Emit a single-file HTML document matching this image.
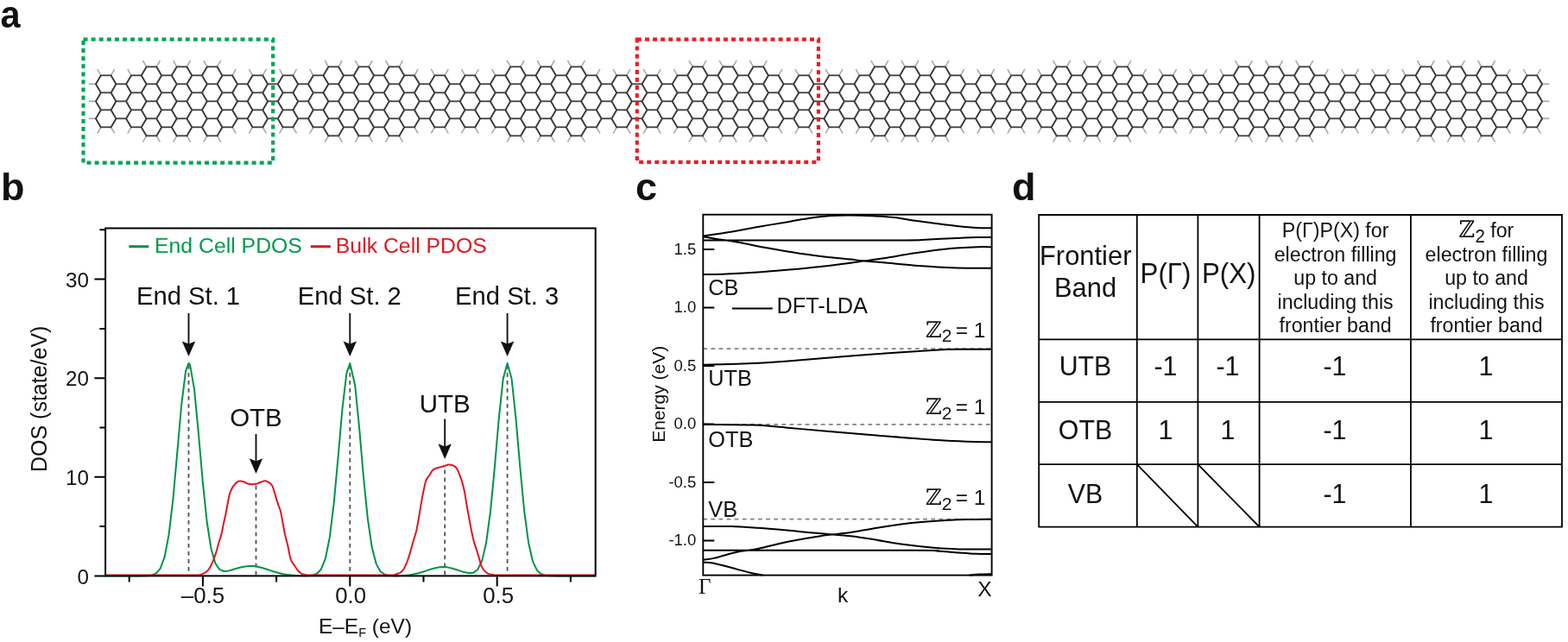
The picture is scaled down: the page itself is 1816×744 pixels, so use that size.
<!DOCTYPE html>
<html><head><meta charset="utf-8"><title>Figure</title><style>
html,body{margin:0;padding:0;background:#fff;overflow:hidden;}
svg{display:block;font-family:"Liberation Sans", Arial, Helvetica, sans-serif;fill:#111;}
</style></head><body>
<svg width="1816" height="744" viewBox="0 0 1816 744" fill="#111">
<rect width="1816" height="744" fill="#fff"/>
<path d="M1235.5 77.4L1239.6 70.2M292.5 147.4L288.4 154.6M304.3 147.4L308.4 154.6M216.4 157.4L220.5 164.6M450.7 77.4L446.5 70.2M1048.0 157.4L1043.9 164.6M1059.8 157.4L1063.9 164.6M591.2 77.4L587.1 70.2M603.0 77.4L607.1 70.2M1745.0 147.4L1749.1 154.6M169.6 77.4L165.4 70.2M181.3 77.4L185.4 70.2M1417.0 87.4L1412.9 80.2M380.4 77.4L376.3 70.2M1094.9 157.4L1099.0 164.6M292.5 87.4L288.4 80.2M1305.8 157.4L1309.9 164.6M1768.4 87.4L1764.3 80.2M1780.1 87.4L1784.3 80.2M239.8 77.4L235.7 70.2M872.4 157.4L868.2 164.6M884.1 157.4L888.2 164.6M1206.2 87.4L1202.1 80.2M239.8 157.4L235.7 164.6M251.6 157.4L255.7 164.6M1768.4 147.4L1764.3 154.6M1780.1 147.4L1784.3 154.6M626.4 77.4L622.2 70.2M152.0 147.4L147.9 154.6M480.0 147.4L484.1 154.6M661.5 157.4L657.4 164.6M673.2 157.4L677.4 164.6M1516.6 77.4L1520.7 70.2M1223.8 157.4L1219.6 164.6M1235.5 157.4L1239.6 164.6M269.1 87.4L273.2 80.2M462.4 157.4L466.5 164.6M603.0 157.4L607.1 164.6M111.0 97.4L102.7 97.4M690.8 87.4L694.9 80.2M1048.0 77.4L1043.9 70.2M1381.9 147.4L1377.8 154.6M1346.7 87.4L1342.6 80.2M1469.7 77.4L1465.6 70.2M1504.9 77.4L1500.7 70.2M515.1 87.4L519.2 80.2M1417.0 147.4L1412.9 154.6M1024.6 157.4L1028.8 164.6M269.1 147.4L273.2 154.6M1112.5 147.4L1116.6 154.6M1083.2 77.4L1079.1 70.2M327.7 87.4L323.6 80.2M1393.6 147.4L1397.7 154.6M304.3 87.4L308.4 80.2M761.1 87.4L765.2 80.2M690.8 147.4L694.9 154.6M960.2 147.4L956.1 154.6M925.1 147.4L920.9 154.6M1715.7 77.4L1711.6 70.2M1727.4 77.4L1731.6 70.2M673.2 77.4L677.4 70.2M1358.5 147.4L1362.6 154.6M327.7 147.4L323.6 154.6M339.4 147.4L343.5 154.6M749.4 87.4L745.2 80.2M111.0 117.4L102.7 117.4M661.5 77.4L657.4 70.2M1083.2 157.4L1079.1 164.6M1147.6 87.4L1151.7 80.2M362.8 147.4L358.7 154.6M784.5 147.4L780.4 154.6M1627.9 147.4L1623.7 154.6M1434.6 157.4L1430.5 164.6M216.4 77.4L220.5 70.2M111.0 137.4L102.7 137.4M116.8 147.4L112.7 154.6M550.2 87.4L554.4 80.2M591.2 157.4L587.1 164.6M936.8 87.4L940.9 80.2M1786.0 137.4L1794.3 137.4M1323.3 87.4L1327.4 80.2M462.4 77.4L466.5 70.2M802.1 77.4L797.9 70.2M813.8 77.4L817.9 70.2M971.9 147.4L976.0 154.6M1745.0 87.4L1749.1 80.2M1147.6 147.4L1151.7 154.6M1223.8 77.4L1219.6 70.2M901.6 87.4L905.8 80.2M1059.8 77.4L1063.9 70.2M1569.3 87.4L1573.4 80.2M1557.6 147.4L1553.5 154.6M1094.9 77.4L1099.0 70.2M1182.8 87.4L1186.9 80.2M1305.8 77.4L1309.9 70.2M204.7 157.4L200.6 164.6M1645.4 77.4L1641.3 70.2M1657.2 77.4L1661.3 70.2M901.6 147.4L905.8 154.6M415.5 157.4L411.4 164.6M427.2 157.4L431.4 164.6M837.2 157.4L833.1 164.6M1206.2 147.4L1202.1 154.6M1627.9 87.4L1623.7 80.2M169.6 157.4L165.4 164.6M181.3 157.4L185.4 164.6M749.4 147.4L745.2 154.6M761.1 147.4L765.2 154.6M1680.6 157.4L1676.4 164.6M960.2 87.4L956.1 80.2M971.9 87.4L976.0 80.2M813.8 157.4L817.9 164.6M515.1 147.4L519.2 154.6M1786.0 97.4L1794.3 97.4M415.5 77.4L411.4 70.2M638.1 77.4L642.2 70.2M1171.0 147.4L1166.9 154.6M1294.0 157.4L1289.9 164.6M392.1 77.4L396.2 70.2M1258.9 157.4L1254.8 164.6M1270.6 157.4L1274.7 164.6M1680.6 77.4L1676.4 70.2M1692.3 77.4L1696.4 70.2M1012.9 77.4L1008.8 70.2M1024.6 77.4L1028.8 70.2M503.4 87.4L499.3 80.2M784.5 87.4L780.4 80.2M1434.6 77.4L1430.5 70.2M1645.4 157.4L1641.3 164.6M626.4 157.4L622.2 164.6M1346.7 147.4L1342.6 154.6M884.1 77.4L888.2 70.2M450.7 157.4L446.5 164.6M1715.7 157.4L1711.6 164.6M1727.4 157.4L1731.6 164.6M837.2 77.4L833.1 70.2M1469.7 157.4L1465.6 164.6M1481.5 157.4L1485.6 164.6M1171.0 87.4L1166.9 80.2M128.6 147.4L132.7 154.6M480.0 87.4L484.1 80.2M1323.3 147.4L1327.4 154.6M714.2 147.4L710.1 154.6M573.7 87.4L569.5 80.2M848.9 77.4L853.1 70.2M362.8 87.4L358.7 80.2M1446.3 157.4L1450.4 164.6M925.1 87.4L920.9 80.2M936.8 147.4L940.9 154.6M725.9 147.4L730.1 154.6M116.8 87.4L112.7 80.2M128.6 87.4L132.7 80.2M1112.5 87.4L1116.6 80.2M1182.8 147.4L1186.9 154.6M1358.5 87.4L1362.6 80.2M1592.7 87.4L1588.6 80.2M1258.9 77.4L1254.8 70.2M1534.2 87.4L1538.3 80.2M1135.9 87.4L1131.8 80.2M995.3 87.4L991.2 80.2M872.4 77.4L868.2 70.2M251.6 77.4L255.7 70.2M1786.0 117.4L1794.3 117.4M1569.3 147.4L1573.4 154.6M152.0 87.4L147.9 80.2M1504.9 157.4L1500.7 164.6M1516.6 157.4L1520.7 164.6M1481.5 77.4L1485.6 70.2M550.2 147.4L554.4 154.6M1692.3 157.4L1696.4 164.6M1381.9 87.4L1377.8 80.2M1657.2 157.4L1661.3 164.6M1446.3 77.4L1450.4 70.2M538.5 87.4L534.4 80.2M1592.7 147.4L1588.6 154.6M1604.4 147.4L1608.6 154.6M848.9 157.4L853.1 164.6M1393.6 87.4L1397.7 80.2M1557.6 87.4L1553.5 80.2M1604.4 87.4L1608.6 80.2M1012.9 157.4L1008.8 164.6M503.4 147.4L499.3 154.6M573.7 147.4L569.5 154.6M339.4 87.4L343.5 80.2M538.5 147.4L534.4 154.6M638.1 157.4L642.2 164.6M204.7 77.4L200.6 70.2M1135.9 147.4L1131.8 154.6M714.2 87.4L710.1 80.2M725.9 87.4L730.1 80.2M1270.6 77.4L1274.7 70.2M380.4 157.4L376.3 164.6M392.1 157.4L396.2 164.6M1294.0 77.4L1289.9 70.2M1534.2 147.4L1538.3 154.6M995.3 147.4L991.2 154.6M802.1 157.4L797.9 164.6M427.2 77.4L431.4 70.2" stroke="#a9a9a9" stroke-width="1.6" fill="none"/>
<path d="M111.0 97.4L116.8 87.4M111.0 97.4L116.8 107.4M111.0 117.4L116.8 107.4M111.0 117.4L116.8 127.4M111.0 137.4L116.8 127.4M111.0 137.4L116.8 147.4M116.8 87.4L128.6 87.4M116.8 107.4L128.6 107.4M116.8 127.4L128.6 127.4M116.8 147.4L128.6 147.4M128.6 87.4L134.4 97.4M128.6 107.4L134.4 97.4M128.6 107.4L134.4 117.4M128.6 127.4L134.4 117.4M128.6 127.4L134.4 137.4M128.6 147.4L134.4 137.4M134.4 97.4L146.1 97.4M134.4 117.4L146.1 117.4M134.4 137.4L146.1 137.4M146.1 97.4L152.0 87.4M146.1 97.4L152.0 107.4M146.1 117.4L152.0 107.4M146.1 117.4L152.0 127.4M146.1 137.4L152.0 127.4M146.1 137.4L152.0 147.4M152.0 87.4L163.7 87.4M152.0 107.4L163.7 107.4M152.0 127.4L163.7 127.4M152.0 147.4L163.7 147.4M163.7 87.4L169.6 77.4M163.7 87.4L169.6 97.4M163.7 107.4L169.6 97.4M163.7 107.4L169.6 117.4M163.7 127.4L169.6 117.4M163.7 127.4L169.6 137.4M163.7 147.4L169.6 137.4M163.7 147.4L169.6 157.4M169.6 77.4L181.3 77.4M169.6 97.4L181.3 97.4M169.6 117.4L181.3 117.4M169.6 137.4L181.3 137.4M169.6 157.4L181.3 157.4M181.3 77.4L187.1 87.4M181.3 97.4L187.1 87.4M181.3 97.4L187.1 107.4M181.3 117.4L187.1 107.4M181.3 117.4L187.1 127.4M181.3 137.4L187.1 127.4M181.3 137.4L187.1 147.4M181.3 157.4L187.1 147.4M187.1 87.4L198.8 87.4M187.1 107.4L198.8 107.4M187.1 127.4L198.8 127.4M187.1 147.4L198.8 147.4M198.8 87.4L204.7 77.4M198.8 87.4L204.7 97.4M198.8 107.4L204.7 97.4M198.8 107.4L204.7 117.4M198.8 127.4L204.7 117.4M198.8 127.4L204.7 137.4M198.8 147.4L204.7 137.4M198.8 147.4L204.7 157.4M204.7 77.4L216.4 77.4M204.7 97.4L216.4 97.4M204.7 117.4L216.4 117.4M204.7 137.4L216.4 137.4M204.7 157.4L216.4 157.4M216.4 77.4L222.3 87.4M216.4 97.4L222.3 87.4M216.4 97.4L222.3 107.4M216.4 117.4L222.3 107.4M216.4 117.4L222.3 127.4M216.4 137.4L222.3 127.4M216.4 137.4L222.3 147.4M216.4 157.4L222.3 147.4M222.3 87.4L234.0 87.4M222.3 107.4L234.0 107.4M222.3 127.4L234.0 127.4M222.3 147.4L234.0 147.4M234.0 87.4L239.8 77.4M234.0 87.4L239.8 97.4M234.0 107.4L239.8 97.4M234.0 107.4L239.8 117.4M234.0 127.4L239.8 117.4M234.0 127.4L239.8 137.4M234.0 147.4L239.8 137.4M234.0 147.4L239.8 157.4M239.8 77.4L251.6 77.4M239.8 97.4L251.6 97.4M239.8 117.4L251.6 117.4M239.8 137.4L251.6 137.4M239.8 157.4L251.6 157.4M251.6 77.4L257.4 87.4M251.6 97.4L257.4 87.4M251.6 97.4L257.4 107.4M251.6 117.4L257.4 107.4M251.6 117.4L257.4 127.4M251.6 137.4L257.4 127.4M251.6 137.4L257.4 147.4M251.6 157.4L257.4 147.4M257.4 87.4L269.1 87.4M257.4 107.4L269.1 107.4M257.4 127.4L269.1 127.4M257.4 147.4L269.1 147.4M269.1 87.4L275.0 97.4M269.1 107.4L275.0 97.4M269.1 107.4L275.0 117.4M269.1 127.4L275.0 117.4M269.1 127.4L275.0 137.4M269.1 147.4L275.0 137.4M275.0 97.4L286.7 97.4M275.0 117.4L286.7 117.4M275.0 137.4L286.7 137.4M286.7 97.4L292.5 87.4M286.7 97.4L292.5 107.4M286.7 117.4L292.5 107.4M286.7 117.4L292.5 127.4M286.7 137.4L292.5 127.4M286.7 137.4L292.5 147.4M292.5 87.4L304.3 87.4M292.5 107.4L304.3 107.4M292.5 127.4L304.3 127.4M292.5 147.4L304.3 147.4M304.3 87.4L310.1 97.4M304.3 107.4L310.1 97.4M304.3 107.4L310.1 117.4M304.3 127.4L310.1 117.4M304.3 127.4L310.1 137.4M304.3 147.4L310.1 137.4M310.1 97.4L321.8 97.4M310.1 117.4L321.8 117.4M310.1 137.4L321.8 137.4M321.8 97.4L327.7 87.4M321.8 97.4L327.7 107.4M321.8 117.4L327.7 107.4M321.8 117.4L327.7 127.4M321.8 137.4L327.7 127.4M321.8 137.4L327.7 147.4M327.7 87.4L339.4 87.4M327.7 107.4L339.4 107.4M327.7 127.4L339.4 127.4M327.7 147.4L339.4 147.4M339.4 87.4L345.2 97.4M339.4 107.4L345.2 97.4M339.4 107.4L345.2 117.4M339.4 127.4L345.2 117.4M339.4 127.4L345.2 137.4M339.4 147.4L345.2 137.4M345.2 97.4L357.0 97.4M345.2 117.4L357.0 117.4M345.2 137.4L357.0 137.4M357.0 97.4L362.8 87.4M357.0 97.4L362.8 107.4M357.0 117.4L362.8 107.4M357.0 117.4L362.8 127.4M357.0 137.4L362.8 127.4M357.0 137.4L362.8 147.4M362.8 87.4L374.5 87.4M362.8 107.4L374.5 107.4M362.8 127.4L374.5 127.4M362.8 147.4L374.5 147.4M374.5 87.4L380.4 77.4M374.5 87.4L380.4 97.4M374.5 107.4L380.4 97.4M374.5 107.4L380.4 117.4M374.5 127.4L380.4 117.4M374.5 127.4L380.4 137.4M374.5 147.4L380.4 137.4M374.5 147.4L380.4 157.4M380.4 77.4L392.1 77.4M380.4 97.4L392.1 97.4M380.4 117.4L392.1 117.4M380.4 137.4L392.1 137.4M380.4 157.4L392.1 157.4M392.1 77.4L398.0 87.4M392.1 97.4L398.0 87.4M392.1 97.4L398.0 107.4M392.1 117.4L398.0 107.4M392.1 117.4L398.0 127.4M392.1 137.4L398.0 127.4M392.1 137.4L398.0 147.4M392.1 157.4L398.0 147.4M398.0 87.4L409.7 87.4M398.0 107.4L409.7 107.4M398.0 127.4L409.7 127.4M398.0 147.4L409.7 147.4M409.7 87.4L415.5 77.4M409.7 87.4L415.5 97.4M409.7 107.4L415.5 97.4M409.7 107.4L415.5 117.4M409.7 127.4L415.5 117.4M409.7 127.4L415.5 137.4M409.7 147.4L415.5 137.4M409.7 147.4L415.5 157.4M415.5 77.4L427.2 77.4M415.5 97.4L427.2 97.4M415.5 117.4L427.2 117.4M415.5 137.4L427.2 137.4M415.5 157.4L427.2 157.4M427.2 77.4L433.1 87.4M427.2 97.4L433.1 87.4M427.2 97.4L433.1 107.4M427.2 117.4L433.1 107.4M427.2 117.4L433.1 127.4M427.2 137.4L433.1 127.4M427.2 137.4L433.1 147.4M427.2 157.4L433.1 147.4M433.1 87.4L444.8 87.4M433.1 107.4L444.8 107.4M433.1 127.4L444.8 127.4M433.1 147.4L444.8 147.4M444.8 87.4L450.7 77.4M444.8 87.4L450.7 97.4M444.8 107.4L450.7 97.4M444.8 107.4L450.7 117.4M444.8 127.4L450.7 117.4M444.8 127.4L450.7 137.4M444.8 147.4L450.7 137.4M444.8 147.4L450.7 157.4M450.7 77.4L462.4 77.4M450.7 97.4L462.4 97.4M450.7 117.4L462.4 117.4M450.7 137.4L462.4 137.4M450.7 157.4L462.4 157.4M462.4 77.4L468.2 87.4M462.4 97.4L468.2 87.4M462.4 97.4L468.2 107.4M462.4 117.4L468.2 107.4M462.4 117.4L468.2 127.4M462.4 137.4L468.2 127.4M462.4 137.4L468.2 147.4M462.4 157.4L468.2 147.4M468.2 87.4L480.0 87.4M468.2 107.4L480.0 107.4M468.2 127.4L480.0 127.4M468.2 147.4L480.0 147.4M480.0 87.4L485.8 97.4M480.0 107.4L485.8 97.4M480.0 107.4L485.8 117.4M480.0 127.4L485.8 117.4M480.0 127.4L485.8 137.4M480.0 147.4L485.8 137.4M485.8 97.4L497.5 97.4M485.8 117.4L497.5 117.4M485.8 137.4L497.5 137.4M497.5 97.4L503.4 87.4M497.5 97.4L503.4 107.4M497.5 117.4L503.4 107.4M497.5 117.4L503.4 127.4M497.5 137.4L503.4 127.4M497.5 137.4L503.4 147.4M503.4 87.4L515.1 87.4M503.4 107.4L515.1 107.4M503.4 127.4L515.1 127.4M503.4 147.4L515.1 147.4M515.1 87.4L521.0 97.4M515.1 107.4L521.0 97.4M515.1 107.4L521.0 117.4M515.1 127.4L521.0 117.4M515.1 127.4L521.0 137.4M515.1 147.4L521.0 137.4M521.0 97.4L532.7 97.4M521.0 117.4L532.7 117.4M521.0 137.4L532.7 137.4M532.7 97.4L538.5 87.4M532.7 97.4L538.5 107.4M532.7 117.4L538.5 107.4M532.7 117.4L538.5 127.4M532.7 137.4L538.5 127.4M532.7 137.4L538.5 147.4M538.5 87.4L550.2 87.4M538.5 107.4L550.2 107.4M538.5 127.4L550.2 127.4M538.5 147.4L550.2 147.4M550.2 87.4L556.1 97.4M550.2 107.4L556.1 97.4M550.2 107.4L556.1 117.4M550.2 127.4L556.1 117.4M550.2 127.4L556.1 137.4M550.2 147.4L556.1 137.4M556.1 97.4L567.8 97.4M556.1 117.4L567.8 117.4M556.1 137.4L567.8 137.4M567.8 97.4L573.7 87.4M567.8 97.4L573.7 107.4M567.8 117.4L573.7 107.4M567.8 117.4L573.7 127.4M567.8 137.4L573.7 127.4M567.8 137.4L573.7 147.4M573.7 87.4L585.4 87.4M573.7 107.4L585.4 107.4M573.7 127.4L585.4 127.4M573.7 147.4L585.4 147.4M585.4 87.4L591.2 77.4M585.4 87.4L591.2 97.4M585.4 107.4L591.2 97.4M585.4 107.4L591.2 117.4M585.4 127.4L591.2 117.4M585.4 127.4L591.2 137.4M585.4 147.4L591.2 137.4M585.4 147.4L591.2 157.4M591.2 77.4L603.0 77.4M591.2 97.4L603.0 97.4M591.2 117.4L603.0 117.4M591.2 137.4L603.0 137.4M591.2 157.4L603.0 157.4M603.0 77.4L608.8 87.4M603.0 97.4L608.8 87.4M603.0 97.4L608.8 107.4M603.0 117.4L608.8 107.4M603.0 117.4L608.8 127.4M603.0 137.4L608.8 127.4M603.0 137.4L608.8 147.4M603.0 157.4L608.8 147.4M608.8 87.4L620.5 87.4M608.8 107.4L620.5 107.4M608.8 127.4L620.5 127.4M608.8 147.4L620.5 147.4M620.5 87.4L626.4 77.4M620.5 87.4L626.4 97.4M620.5 107.4L626.4 97.4M620.5 107.4L626.4 117.4M620.5 127.4L626.4 117.4M620.5 127.4L626.4 137.4M620.5 147.4L626.4 137.4M620.5 147.4L626.4 157.4M626.4 77.4L638.1 77.4M626.4 97.4L638.1 97.4M626.4 117.4L638.1 117.4M626.4 137.4L638.1 137.4M626.4 157.4L638.1 157.4M638.1 77.4L643.9 87.4M638.1 97.4L643.9 87.4M638.1 97.4L643.9 107.4M638.1 117.4L643.9 107.4M638.1 117.4L643.9 127.4M638.1 137.4L643.9 127.4M638.1 137.4L643.9 147.4M638.1 157.4L643.9 147.4M643.9 87.4L655.7 87.4M643.9 107.4L655.7 107.4M643.9 127.4L655.7 127.4M643.9 147.4L655.7 147.4M655.7 87.4L661.5 77.4M655.7 87.4L661.5 97.4M655.7 107.4L661.5 97.4M655.7 107.4L661.5 117.4M655.7 127.4L661.5 117.4M655.7 127.4L661.5 137.4M655.7 147.4L661.5 137.4M655.7 147.4L661.5 157.4M661.5 77.4L673.2 77.4M661.5 97.4L673.2 97.4M661.5 117.4L673.2 117.4M661.5 137.4L673.2 137.4M661.5 157.4L673.2 157.4M673.2 77.4L679.1 87.4M673.2 97.4L679.1 87.4M673.2 97.4L679.1 107.4M673.2 117.4L679.1 107.4M673.2 117.4L679.1 127.4M673.2 137.4L679.1 127.4M673.2 137.4L679.1 147.4M673.2 157.4L679.1 147.4M679.1 87.4L690.8 87.4M679.1 107.4L690.8 107.4M679.1 127.4L690.8 127.4M679.1 147.4L690.8 147.4M690.8 87.4L696.6 97.4M690.8 107.4L696.6 97.4M690.8 107.4L696.6 117.4M690.8 127.4L696.6 117.4M690.8 127.4L696.6 137.4M690.8 147.4L696.6 137.4M696.6 97.4L708.4 97.4M696.6 117.4L708.4 117.4M696.6 137.4L708.4 137.4M708.4 97.4L714.2 87.4M708.4 97.4L714.2 107.4M708.4 117.4L714.2 107.4M708.4 117.4L714.2 127.4M708.4 137.4L714.2 127.4M708.4 137.4L714.2 147.4M714.2 87.4L725.9 87.4M714.2 107.4L725.9 107.4M714.2 127.4L725.9 127.4M714.2 147.4L725.9 147.4M725.9 87.4L731.8 97.4M725.9 107.4L731.8 97.4M725.9 107.4L731.8 117.4M725.9 127.4L731.8 117.4M725.9 127.4L731.8 137.4M725.9 147.4L731.8 137.4M731.8 97.4L743.5 97.4M731.8 117.4L743.5 117.4M731.8 137.4L743.5 137.4M743.5 97.4L749.4 87.4M743.5 97.4L749.4 107.4M743.5 117.4L749.4 107.4M743.5 117.4L749.4 127.4M743.5 137.4L749.4 127.4M743.5 137.4L749.4 147.4M749.4 87.4L761.1 87.4M749.4 107.4L761.1 107.4M749.4 127.4L761.1 127.4M749.4 147.4L761.1 147.4M761.1 87.4L766.9 97.4M761.1 107.4L766.9 97.4M761.1 107.4L766.9 117.4M761.1 127.4L766.9 117.4M761.1 127.4L766.9 137.4M761.1 147.4L766.9 137.4M766.9 97.4L778.6 97.4M766.9 117.4L778.6 117.4M766.9 137.4L778.6 137.4M778.6 97.4L784.5 87.4M778.6 97.4L784.5 107.4M778.6 117.4L784.5 107.4M778.6 117.4L784.5 127.4M778.6 137.4L784.5 127.4M778.6 137.4L784.5 147.4M784.5 87.4L796.2 87.4M784.5 107.4L796.2 107.4M784.5 127.4L796.2 127.4M784.5 147.4L796.2 147.4M796.2 87.4L802.1 77.4M796.2 87.4L802.1 97.4M796.2 107.4L802.1 97.4M796.2 107.4L802.1 117.4M796.2 127.4L802.1 117.4M796.2 127.4L802.1 137.4M796.2 147.4L802.1 137.4M796.2 147.4L802.1 157.4M802.1 77.4L813.8 77.4M802.1 97.4L813.8 97.4M802.1 117.4L813.8 117.4M802.1 137.4L813.8 137.4M802.1 157.4L813.8 157.4M813.8 77.4L819.6 87.4M813.8 97.4L819.6 87.4M813.8 97.4L819.6 107.4M813.8 117.4L819.6 107.4M813.8 117.4L819.6 127.4M813.8 137.4L819.6 127.4M813.8 137.4L819.6 147.4M813.8 157.4L819.6 147.4M819.6 87.4L831.4 87.4M819.6 107.4L831.4 107.4M819.6 127.4L831.4 127.4M819.6 147.4L831.4 147.4M831.4 87.4L837.2 77.4M831.4 87.4L837.2 97.4M831.4 107.4L837.2 97.4M831.4 107.4L837.2 117.4M831.4 127.4L837.2 117.4M831.4 127.4L837.2 137.4M831.4 147.4L837.2 137.4M831.4 147.4L837.2 157.4M837.2 77.4L848.9 77.4M837.2 97.4L848.9 97.4M837.2 117.4L848.9 117.4M837.2 137.4L848.9 137.4M837.2 157.4L848.9 157.4M848.9 77.4L854.8 87.4M848.9 97.4L854.8 87.4M848.9 97.4L854.8 107.4M848.9 117.4L854.8 107.4M848.9 117.4L854.8 127.4M848.9 137.4L854.8 127.4M848.9 137.4L854.8 147.4M848.9 157.4L854.8 147.4M854.8 87.4L866.5 87.4M854.8 107.4L866.5 107.4M854.8 127.4L866.5 127.4M854.8 147.4L866.5 147.4M866.5 87.4L872.4 77.4M866.5 87.4L872.4 97.4M866.5 107.4L872.4 97.4M866.5 107.4L872.4 117.4M866.5 127.4L872.4 117.4M866.5 127.4L872.4 137.4M866.5 147.4L872.4 137.4M866.5 147.4L872.4 157.4M872.4 77.4L884.1 77.4M872.4 97.4L884.1 97.4M872.4 117.4L884.1 117.4M872.4 137.4L884.1 137.4M872.4 157.4L884.1 157.4M884.1 77.4L889.9 87.4M884.1 97.4L889.9 87.4M884.1 97.4L889.9 107.4M884.1 117.4L889.9 107.4M884.1 117.4L889.9 127.4M884.1 137.4L889.9 127.4M884.1 137.4L889.9 147.4M884.1 157.4L889.9 147.4M889.9 87.4L901.6 87.4M889.9 107.4L901.6 107.4M889.9 127.4L901.6 127.4M889.9 147.4L901.6 147.4M901.6 87.4L907.5 97.4M901.6 107.4L907.5 97.4M901.6 107.4L907.5 117.4M901.6 127.4L907.5 117.4M901.6 127.4L907.5 137.4M901.6 147.4L907.5 137.4M907.5 97.4L919.2 97.4M907.5 117.4L919.2 117.4M907.5 137.4L919.2 137.4M919.2 97.4L925.1 87.4M919.2 97.4L925.1 107.4M919.2 117.4L925.1 107.4M919.2 117.4L925.1 127.4M919.2 137.4L925.1 127.4M919.2 137.4L925.1 147.4M925.1 87.4L936.8 87.4M925.1 107.4L936.8 107.4M925.1 127.4L936.8 127.4M925.1 147.4L936.8 147.4M936.8 87.4L942.6 97.4M936.8 107.4L942.6 97.4M936.8 107.4L942.6 117.4M936.8 127.4L942.6 117.4M936.8 127.4L942.6 137.4M936.8 147.4L942.6 137.4M942.6 97.4L954.4 97.4M942.6 117.4L954.4 117.4M942.6 137.4L954.4 137.4M954.4 97.4L960.2 87.4M954.4 97.4L960.2 107.4M954.4 117.4L960.2 107.4M954.4 117.4L960.2 127.4M954.4 137.4L960.2 127.4M954.4 137.4L960.2 147.4M960.2 87.4L971.9 87.4M960.2 107.4L971.9 107.4M960.2 127.4L971.9 127.4M960.2 147.4L971.9 147.4M971.9 87.4L977.8 97.4M971.9 107.4L977.8 97.4M971.9 107.4L977.8 117.4M971.9 127.4L977.8 117.4M971.9 127.4L977.8 137.4M971.9 147.4L977.8 137.4M977.8 97.4L989.5 97.4M977.8 117.4L989.5 117.4M977.8 137.4L989.5 137.4M989.5 97.4L995.3 87.4M989.5 97.4L995.3 107.4M989.5 117.4L995.3 107.4M989.5 117.4L995.3 127.4M989.5 137.4L995.3 127.4M989.5 137.4L995.3 147.4M995.3 87.4L1007.1 87.4M995.3 107.4L1007.1 107.4M995.3 127.4L1007.1 127.4M995.3 147.4L1007.1 147.4M1007.1 87.4L1012.9 77.4M1007.1 87.4L1012.9 97.4M1007.1 107.4L1012.9 97.4M1007.1 107.4L1012.9 117.4M1007.1 127.4L1012.9 117.4M1007.1 127.4L1012.9 137.4M1007.1 147.4L1012.9 137.4M1007.1 147.4L1012.9 157.4M1012.9 77.4L1024.6 77.4M1012.9 97.4L1024.6 97.4M1012.9 117.4L1024.6 117.4M1012.9 137.4L1024.6 137.4M1012.9 157.4L1024.6 157.4M1024.6 77.4L1030.5 87.4M1024.6 97.4L1030.5 87.4M1024.6 97.4L1030.5 107.4M1024.6 117.4L1030.5 107.4M1024.6 117.4L1030.5 127.4M1024.6 137.4L1030.5 127.4M1024.6 137.4L1030.5 147.4M1024.6 157.4L1030.5 147.4M1030.5 87.4L1042.2 87.4M1030.5 107.4L1042.2 107.4M1030.5 127.4L1042.2 127.4M1030.5 147.4L1042.2 147.4M1042.2 87.4L1048.0 77.4M1042.2 87.4L1048.0 97.4M1042.2 107.4L1048.0 97.4M1042.2 107.4L1048.0 117.4M1042.2 127.4L1048.0 117.4M1042.2 127.4L1048.0 137.4M1042.2 147.4L1048.0 137.4M1042.2 147.4L1048.0 157.4M1048.0 77.4L1059.8 77.4M1048.0 97.4L1059.8 97.4M1048.0 117.4L1059.8 117.4M1048.0 137.4L1059.8 137.4M1048.0 157.4L1059.8 157.4M1059.8 77.4L1065.6 87.4M1059.8 97.4L1065.6 87.4M1059.8 97.4L1065.6 107.4M1059.8 117.4L1065.6 107.4M1059.8 117.4L1065.6 127.4M1059.8 137.4L1065.6 127.4M1059.8 137.4L1065.6 147.4M1059.8 157.4L1065.6 147.4M1065.6 87.4L1077.3 87.4M1065.6 107.4L1077.3 107.4M1065.6 127.4L1077.3 127.4M1065.6 147.4L1077.3 147.4M1077.3 87.4L1083.2 77.4M1077.3 87.4L1083.2 97.4M1077.3 107.4L1083.2 97.4M1077.3 107.4L1083.2 117.4M1077.3 127.4L1083.2 117.4M1077.3 127.4L1083.2 137.4M1077.3 147.4L1083.2 137.4M1077.3 147.4L1083.2 157.4M1083.2 77.4L1094.9 77.4M1083.2 97.4L1094.9 97.4M1083.2 117.4L1094.9 117.4M1083.2 137.4L1094.9 137.4M1083.2 157.4L1094.9 157.4M1094.9 77.4L1100.8 87.4M1094.9 97.4L1100.8 87.4M1094.9 97.4L1100.8 107.4M1094.9 117.4L1100.8 107.4M1094.9 117.4L1100.8 127.4M1094.9 137.4L1100.8 127.4M1094.9 137.4L1100.8 147.4M1094.9 157.4L1100.8 147.4M1100.8 87.4L1112.5 87.4M1100.8 107.4L1112.5 107.4M1100.8 127.4L1112.5 127.4M1100.8 147.4L1112.5 147.4M1112.5 87.4L1118.3 97.4M1112.5 107.4L1118.3 97.4M1112.5 107.4L1118.3 117.4M1112.5 127.4L1118.3 117.4M1112.5 127.4L1118.3 137.4M1112.5 147.4L1118.3 137.4M1118.3 97.4L1130.0 97.4M1118.3 117.4L1130.0 117.4M1118.3 137.4L1130.0 137.4M1130.0 97.4L1135.9 87.4M1130.0 97.4L1135.9 107.4M1130.0 117.4L1135.9 107.4M1130.0 117.4L1135.9 127.4M1130.0 137.4L1135.9 127.4M1130.0 137.4L1135.9 147.4M1135.9 87.4L1147.6 87.4M1135.9 107.4L1147.6 107.4M1135.9 127.4L1147.6 127.4M1135.9 147.4L1147.6 147.4M1147.6 87.4L1153.5 97.4M1147.6 107.4L1153.5 97.4M1147.6 107.4L1153.5 117.4M1147.6 127.4L1153.5 117.4M1147.6 127.4L1153.5 137.4M1147.6 147.4L1153.5 137.4M1153.5 97.4L1165.2 97.4M1153.5 117.4L1165.2 117.4M1153.5 137.4L1165.2 137.4M1165.2 97.4L1171.0 87.4M1165.2 97.4L1171.0 107.4M1165.2 117.4L1171.0 107.4M1165.2 117.4L1171.0 127.4M1165.2 137.4L1171.0 127.4M1165.2 137.4L1171.0 147.4M1171.0 87.4L1182.8 87.4M1171.0 107.4L1182.8 107.4M1171.0 127.4L1182.8 127.4M1171.0 147.4L1182.8 147.4M1182.8 87.4L1188.6 97.4M1182.8 107.4L1188.6 97.4M1182.8 107.4L1188.6 117.4M1182.8 127.4L1188.6 117.4M1182.8 127.4L1188.6 137.4M1182.8 147.4L1188.6 137.4M1188.6 97.4L1200.3 97.4M1188.6 117.4L1200.3 117.4M1188.6 137.4L1200.3 137.4M1200.3 97.4L1206.2 87.4M1200.3 97.4L1206.2 107.4M1200.3 117.4L1206.2 107.4M1200.3 117.4L1206.2 127.4M1200.3 137.4L1206.2 127.4M1200.3 137.4L1206.2 147.4M1206.2 87.4L1217.9 87.4M1206.2 107.4L1217.9 107.4M1206.2 127.4L1217.9 127.4M1206.2 147.4L1217.9 147.4M1217.9 87.4L1223.8 77.4M1217.9 87.4L1223.8 97.4M1217.9 107.4L1223.8 97.4M1217.9 107.4L1223.8 117.4M1217.9 127.4L1223.8 117.4M1217.9 127.4L1223.8 137.4M1217.9 147.4L1223.8 137.4M1217.9 147.4L1223.8 157.4M1223.8 77.4L1235.5 77.4M1223.8 97.4L1235.5 97.4M1223.8 117.4L1235.5 117.4M1223.8 137.4L1235.5 137.4M1223.8 157.4L1235.5 157.4M1235.5 77.4L1241.3 87.4M1235.5 97.4L1241.3 87.4M1235.5 97.4L1241.3 107.4M1235.5 117.4L1241.3 107.4M1235.5 117.4L1241.3 127.4M1235.5 137.4L1241.3 127.4M1235.5 137.4L1241.3 147.4M1235.5 157.4L1241.3 147.4M1241.3 87.4L1253.0 87.4M1241.3 107.4L1253.0 107.4M1241.3 127.4L1253.0 127.4M1241.3 147.4L1253.0 147.4M1253.0 87.4L1258.9 77.4M1253.0 87.4L1258.9 97.4M1253.0 107.4L1258.9 97.4M1253.0 107.4L1258.9 117.4M1253.0 127.4L1258.9 117.4M1253.0 127.4L1258.9 137.4M1253.0 147.4L1258.9 137.4M1253.0 147.4L1258.9 157.4M1258.9 77.4L1270.6 77.4M1258.9 97.4L1270.6 97.4M1258.9 117.4L1270.6 117.4M1258.9 137.4L1270.6 137.4M1258.9 157.4L1270.6 157.4M1270.6 77.4L1276.5 87.4M1270.6 97.4L1276.5 87.4M1270.6 97.4L1276.5 107.4M1270.6 117.4L1276.5 107.4M1270.6 117.4L1276.5 127.4M1270.6 137.4L1276.5 127.4M1270.6 137.4L1276.5 147.4M1270.6 157.4L1276.5 147.4M1276.5 87.4L1288.2 87.4M1276.5 107.4L1288.2 107.4M1276.5 127.4L1288.2 127.4M1276.5 147.4L1288.2 147.4M1288.2 87.4L1294.0 77.4M1288.2 87.4L1294.0 97.4M1288.2 107.4L1294.0 97.4M1288.2 107.4L1294.0 117.4M1288.2 127.4L1294.0 117.4M1288.2 127.4L1294.0 137.4M1288.2 147.4L1294.0 137.4M1288.2 147.4L1294.0 157.4M1294.0 77.4L1305.8 77.4M1294.0 97.4L1305.8 97.4M1294.0 117.4L1305.8 117.4M1294.0 137.4L1305.8 137.4M1294.0 157.4L1305.8 157.4M1305.8 77.4L1311.6 87.4M1305.8 97.4L1311.6 87.4M1305.8 97.4L1311.6 107.4M1305.8 117.4L1311.6 107.4M1305.8 117.4L1311.6 127.4M1305.8 137.4L1311.6 127.4M1305.8 137.4L1311.6 147.4M1305.8 157.4L1311.6 147.4M1311.6 87.4L1323.3 87.4M1311.6 107.4L1323.3 107.4M1311.6 127.4L1323.3 127.4M1311.6 147.4L1323.3 147.4M1323.3 87.4L1329.2 97.4M1323.3 107.4L1329.2 97.4M1323.3 107.4L1329.2 117.4M1323.3 127.4L1329.2 117.4M1323.3 127.4L1329.2 137.4M1323.3 147.4L1329.2 137.4M1329.2 97.4L1340.9 97.4M1329.2 117.4L1340.9 117.4M1329.2 137.4L1340.9 137.4M1340.9 97.4L1346.7 87.4M1340.9 97.4L1346.7 107.4M1340.9 117.4L1346.7 107.4M1340.9 117.4L1346.7 127.4M1340.9 137.4L1346.7 127.4M1340.9 137.4L1346.7 147.4M1346.7 87.4L1358.5 87.4M1346.7 107.4L1358.5 107.4M1346.7 127.4L1358.5 127.4M1346.7 147.4L1358.5 147.4M1358.5 87.4L1364.3 97.4M1358.5 107.4L1364.3 97.4M1358.5 107.4L1364.3 117.4M1358.5 127.4L1364.3 117.4M1358.5 127.4L1364.3 137.4M1358.5 147.4L1364.3 137.4M1364.3 97.4L1376.0 97.4M1364.3 117.4L1376.0 117.4M1364.3 137.4L1376.0 137.4M1376.0 97.4L1381.9 87.4M1376.0 97.4L1381.9 107.4M1376.0 117.4L1381.9 107.4M1376.0 117.4L1381.9 127.4M1376.0 137.4L1381.9 127.4M1376.0 137.4L1381.9 147.4M1381.9 87.4L1393.6 87.4M1381.9 107.4L1393.6 107.4M1381.9 127.4L1393.6 127.4M1381.9 147.4L1393.6 147.4M1393.6 87.4L1399.5 97.4M1393.6 107.4L1399.5 97.4M1393.6 107.4L1399.5 117.4M1393.6 127.4L1399.5 117.4M1393.6 127.4L1399.5 137.4M1393.6 147.4L1399.5 137.4M1399.5 97.4L1411.2 97.4M1399.5 117.4L1411.2 117.4M1399.5 137.4L1411.2 137.4M1411.2 97.4L1417.0 87.4M1411.2 97.4L1417.0 107.4M1411.2 117.4L1417.0 107.4M1411.2 117.4L1417.0 127.4M1411.2 137.4L1417.0 127.4M1411.2 137.4L1417.0 147.4M1417.0 87.4L1428.7 87.4M1417.0 107.4L1428.7 107.4M1417.0 127.4L1428.7 127.4M1417.0 147.4L1428.7 147.4M1428.7 87.4L1434.6 77.4M1428.7 87.4L1434.6 97.4M1428.7 107.4L1434.6 97.4M1428.7 107.4L1434.6 117.4M1428.7 127.4L1434.6 117.4M1428.7 127.4L1434.6 137.4M1428.7 147.4L1434.6 137.4M1428.7 147.4L1434.6 157.4M1434.6 77.4L1446.3 77.4M1434.6 97.4L1446.3 97.4M1434.6 117.4L1446.3 117.4M1434.6 137.4L1446.3 137.4M1434.6 157.4L1446.3 157.4M1446.3 77.4L1452.2 87.4M1446.3 97.4L1452.2 87.4M1446.3 97.4L1452.2 107.4M1446.3 117.4L1452.2 107.4M1446.3 117.4L1452.2 127.4M1446.3 137.4L1452.2 127.4M1446.3 137.4L1452.2 147.4M1446.3 157.4L1452.2 147.4M1452.2 87.4L1463.9 87.4M1452.2 107.4L1463.9 107.4M1452.2 127.4L1463.9 127.4M1452.2 147.4L1463.9 147.4M1463.9 87.4L1469.7 77.4M1463.9 87.4L1469.7 97.4M1463.9 107.4L1469.7 97.4M1463.9 107.4L1469.7 117.4M1463.9 127.4L1469.7 117.4M1463.9 127.4L1469.7 137.4M1463.9 147.4L1469.7 137.4M1463.9 147.4L1469.7 157.4M1469.7 77.4L1481.5 77.4M1469.7 97.4L1481.5 97.4M1469.7 117.4L1481.5 117.4M1469.7 137.4L1481.5 137.4M1469.7 157.4L1481.5 157.4M1481.5 77.4L1487.3 87.4M1481.5 97.4L1487.3 87.4M1481.5 97.4L1487.3 107.4M1481.5 117.4L1487.3 107.4M1481.5 117.4L1487.3 127.4M1481.5 137.4L1487.3 127.4M1481.5 137.4L1487.3 147.4M1481.5 157.4L1487.3 147.4M1487.3 87.4L1499.0 87.4M1487.3 107.4L1499.0 107.4M1487.3 127.4L1499.0 127.4M1487.3 147.4L1499.0 147.4M1499.0 87.4L1504.9 77.4M1499.0 87.4L1504.9 97.4M1499.0 107.4L1504.9 97.4M1499.0 107.4L1504.9 117.4M1499.0 127.4L1504.9 117.4M1499.0 127.4L1504.9 137.4M1499.0 147.4L1504.9 137.4M1499.0 147.4L1504.9 157.4M1504.9 77.4L1516.6 77.4M1504.9 97.4L1516.6 97.4M1504.9 117.4L1516.6 117.4M1504.9 137.4L1516.6 137.4M1504.9 157.4L1516.6 157.4M1516.6 77.4L1522.4 87.4M1516.6 97.4L1522.4 87.4M1516.6 97.4L1522.4 107.4M1516.6 117.4L1522.4 107.4M1516.6 117.4L1522.4 127.4M1516.6 137.4L1522.4 127.4M1516.6 137.4L1522.4 147.4M1516.6 157.4L1522.4 147.4M1522.4 87.4L1534.2 87.4M1522.4 107.4L1534.2 107.4M1522.4 127.4L1534.2 127.4M1522.4 147.4L1534.2 147.4M1534.2 87.4L1540.0 97.4M1534.2 107.4L1540.0 97.4M1534.2 107.4L1540.0 117.4M1534.2 127.4L1540.0 117.4M1534.2 127.4L1540.0 137.4M1534.2 147.4L1540.0 137.4M1540.0 97.4L1551.7 97.4M1540.0 117.4L1551.7 117.4M1540.0 137.4L1551.7 137.4M1551.7 97.4L1557.6 87.4M1551.7 97.4L1557.6 107.4M1551.7 117.4L1557.6 107.4M1551.7 117.4L1557.6 127.4M1551.7 137.4L1557.6 127.4M1551.7 137.4L1557.6 147.4M1557.6 87.4L1569.3 87.4M1557.6 107.4L1569.3 107.4M1557.6 127.4L1569.3 127.4M1557.6 147.4L1569.3 147.4M1569.3 87.4L1575.2 97.4M1569.3 107.4L1575.2 97.4M1569.3 107.4L1575.2 117.4M1569.3 127.4L1575.2 117.4M1569.3 127.4L1575.2 137.4M1569.3 147.4L1575.2 137.4M1575.2 97.4L1586.9 97.4M1575.2 117.4L1586.9 117.4M1575.2 137.4L1586.9 137.4M1586.9 97.4L1592.7 87.4M1586.9 97.4L1592.7 107.4M1586.9 117.4L1592.7 107.4M1586.9 117.4L1592.7 127.4M1586.9 137.4L1592.7 127.4M1586.9 137.4L1592.7 147.4M1592.7 87.4L1604.4 87.4M1592.7 107.4L1604.4 107.4M1592.7 127.4L1604.4 127.4M1592.7 147.4L1604.4 147.4M1604.4 87.4L1610.3 97.4M1604.4 107.4L1610.3 97.4M1604.4 107.4L1610.3 117.4M1604.4 127.4L1610.3 117.4M1604.4 127.4L1610.3 137.4M1604.4 147.4L1610.3 137.4M1610.3 97.4L1622.0 97.4M1610.3 117.4L1622.0 117.4M1610.3 137.4L1622.0 137.4M1622.0 97.4L1627.9 87.4M1622.0 97.4L1627.9 107.4M1622.0 117.4L1627.9 107.4M1622.0 117.4L1627.9 127.4M1622.0 137.4L1627.9 127.4M1622.0 137.4L1627.9 147.4M1627.9 87.4L1639.6 87.4M1627.9 107.4L1639.6 107.4M1627.9 127.4L1639.6 127.4M1627.9 147.4L1639.6 147.4M1639.6 87.4L1645.4 77.4M1639.6 87.4L1645.4 97.4M1639.6 107.4L1645.4 97.4M1639.6 107.4L1645.4 117.4M1639.6 127.4L1645.4 117.4M1639.6 127.4L1645.4 137.4M1639.6 147.4L1645.4 137.4M1639.6 147.4L1645.4 157.4M1645.4 77.4L1657.2 77.4M1645.4 97.4L1657.2 97.4M1645.4 117.4L1657.2 117.4M1645.4 137.4L1657.2 137.4M1645.4 157.4L1657.2 157.4M1657.2 77.4L1663.0 87.4M1657.2 97.4L1663.0 87.4M1657.2 97.4L1663.0 107.4M1657.2 117.4L1663.0 107.4M1657.2 117.4L1663.0 127.4M1657.2 137.4L1663.0 127.4M1657.2 137.4L1663.0 147.4M1657.2 157.4L1663.0 147.4M1663.0 87.4L1674.7 87.4M1663.0 107.4L1674.7 107.4M1663.0 127.4L1674.7 127.4M1663.0 147.4L1674.7 147.4M1674.7 87.4L1680.6 77.4M1674.7 87.4L1680.6 97.4M1674.7 107.4L1680.6 97.4M1674.7 107.4L1680.6 117.4M1674.7 127.4L1680.6 117.4M1674.7 127.4L1680.6 137.4M1674.7 147.4L1680.6 137.4M1674.7 147.4L1680.6 157.4M1680.6 77.4L1692.3 77.4M1680.6 97.4L1692.3 97.4M1680.6 117.4L1692.3 117.4M1680.6 137.4L1692.3 137.4M1680.6 157.4L1692.3 157.4M1692.3 77.4L1698.1 87.4M1692.3 97.4L1698.1 87.4M1692.3 97.4L1698.1 107.4M1692.3 117.4L1698.1 107.4M1692.3 117.4L1698.1 127.4M1692.3 137.4L1698.1 127.4M1692.3 137.4L1698.1 147.4M1692.3 157.4L1698.1 147.4M1698.1 87.4L1709.9 87.4M1698.1 107.4L1709.9 107.4M1698.1 127.4L1709.9 127.4M1698.1 147.4L1709.9 147.4M1709.9 87.4L1715.7 77.4M1709.9 87.4L1715.7 97.4M1709.9 107.4L1715.7 97.4M1709.9 107.4L1715.7 117.4M1709.9 127.4L1715.7 117.4M1709.9 127.4L1715.7 137.4M1709.9 147.4L1715.7 137.4M1709.9 147.4L1715.7 157.4M1715.7 77.4L1727.4 77.4M1715.7 97.4L1727.4 97.4M1715.7 117.4L1727.4 117.4M1715.7 137.4L1727.4 137.4M1715.7 157.4L1727.4 157.4M1727.4 77.4L1733.3 87.4M1727.4 97.4L1733.3 87.4M1727.4 97.4L1733.3 107.4M1727.4 117.4L1733.3 107.4M1727.4 117.4L1733.3 127.4M1727.4 137.4L1733.3 127.4M1727.4 137.4L1733.3 147.4M1727.4 157.4L1733.3 147.4M1733.3 87.4L1745.0 87.4M1733.3 107.4L1745.0 107.4M1733.3 127.4L1745.0 127.4M1733.3 147.4L1745.0 147.4M1745.0 87.4L1750.8 97.4M1745.0 107.4L1750.8 97.4M1745.0 107.4L1750.8 117.4M1745.0 127.4L1750.8 117.4M1745.0 127.4L1750.8 137.4M1745.0 147.4L1750.8 137.4M1750.8 97.4L1762.6 97.4M1750.8 117.4L1762.6 117.4M1750.8 137.4L1762.6 137.4M1762.6 97.4L1768.4 87.4M1762.6 97.4L1768.4 107.4M1762.6 117.4L1768.4 107.4M1762.6 117.4L1768.4 127.4M1762.6 137.4L1768.4 127.4M1762.6 137.4L1768.4 147.4M1768.4 87.4L1780.1 87.4M1768.4 107.4L1780.1 107.4M1768.4 127.4L1780.1 127.4M1768.4 147.4L1780.1 147.4M1780.1 87.4L1786.0 97.4M1780.1 107.4L1786.0 97.4M1780.1 107.4L1786.0 117.4M1780.1 127.4L1786.0 117.4M1780.1 127.4L1786.0 137.4M1780.1 147.4L1786.0 137.4" stroke="#383838" stroke-width="1.9" fill="none" stroke-linejoin="round" stroke-linecap="round"/>
<rect x="96.5" y="45.7" width="219.7" height="142.9" fill="none" stroke="#00a651" stroke-width="4.2" stroke-dasharray="5 4.1"/>
<rect x="737.8" y="45.6" width="210.1" height="142.2" fill="none" stroke="#ed1c24" stroke-width="4.2" stroke-dasharray="5 4.1"/>
<text transform="translate(0.50 32.00) scale(0.920 1.000)" font-size="45.00" font-weight="bold">a</text>
<text transform="translate(1.00 231.50)" font-size="45.00" font-weight="bold">b</text>
<text transform="translate(736.00 231.50)" font-size="45.00" font-weight="bold">c</text>
<text transform="translate(1172.00 231.50)" font-size="45.00" font-weight="bold">d</text>
<line x1="218.5" y1="423.0" x2="218.5" y2="667.4" stroke="#58595b" stroke-width="1.9" stroke-dasharray="4.8 4.2"/>
<line x1="405.3" y1="423.0" x2="405.3" y2="667.4" stroke="#58595b" stroke-width="1.9" stroke-dasharray="4.8 4.2"/>
<line x1="587.6" y1="423.0" x2="587.6" y2="667.4" stroke="#58595b" stroke-width="1.9" stroke-dasharray="4.8 4.2"/>
<line x1="296.5" y1="562.8" x2="296.5" y2="667.4" stroke="#58595b" stroke-width="1.9" stroke-dasharray="4.8 4.2"/>
<line x1="515.2" y1="544.5" x2="515.2" y2="667.4" stroke="#58595b" stroke-width="1.9" stroke-dasharray="4.8 4.2"/>
<path d="M122.10 667.40L127.00 667.40L131.90 667.40L136.80 667.40L141.70 667.40L146.60 667.40L151.50 667.40L156.40 667.40L161.30 667.39L166.20 667.35L171.10 667.17L176.00 666.50L180.90 664.35L185.80 658.52L190.70 645.11L195.60 619.20L200.50 577.57L205.40 523.15L210.30 467.78L215.20 429.37L218.60 420.98L220.10 422.81L225.00 450.80L229.90 502.04L234.80 558.46L239.70 605.24L244.60 636.27L249.50 652.99L254.40 660.10L259.30 662.03L264.20 661.63L269.10 660.33L274.00 658.81L278.90 657.43L283.80 656.43L288.70 655.96L293.60 656.11L298.50 656.84L303.40 658.05L308.30 659.56L313.20 661.17L318.10 662.72L323.00 664.07L327.90 665.15L332.80 665.96L337.70 666.53L342.60 666.90L347.50 667.12L352.40 667.22L357.30 667.14L362.20 666.59L367.10 664.71L372.00 659.47L376.90 647.18L381.80 622.92L386.70 583.10L391.60 529.70L396.50 473.60L401.40 432.36L405.30 421.01L411.20 446.21L416.10 495.77L421.00 552.65L425.90 601.28L430.80 634.58L435.70 653.36L440.60 662.22L445.50 665.74L450.40 666.92L455.30 667.21L460.20 667.20L465.10 667.04L470.00 666.71L474.90 666.16L479.80 665.34L484.70 664.20L489.60 662.77L494.50 661.14L499.40 659.53L504.30 658.17L509.20 657.30L514.10 657.10L519.00 657.61L523.90 658.73L528.80 660.23L533.70 661.85L538.60 663.30L543.50 664.16L548.40 663.66L553.30 660.05L558.20 650.06L563.10 628.97L568.00 592.64L572.90 541.57L577.80 484.74L582.70 438.87L587.60 421.01L587.60 421.01L592.50 438.49L597.40 484.14L602.30 540.98L607.20 592.26L612.10 628.91L617.00 650.41L621.90 660.94L626.80 665.28L631.70 666.80L636.60 667.25L641.50 667.37L646.40 667.39L651.30 667.40L656.20 667.40L661.10 667.40L666.00 667.40L670.90 667.40L675.80 667.40L680.70 667.40L685.60 667.40L689.70 667.40" stroke="#00924a" stroke-width="2" fill="none" stroke-linejoin="round"/>
<path d="M122.10 666.60L122.60 666.60L123.10 666.60L123.60 666.60L124.10 666.60L124.60 666.60L125.10 666.60L125.60 666.60L126.10 666.60L126.60 666.60L127.10 666.60L127.60 666.60L128.10 666.60L128.60 666.60L129.10 666.60L129.60 666.60L130.10 666.60L130.60 666.60L131.10 666.60L131.60 666.60L132.10 666.60L132.60 666.60L133.10 666.60L133.60 666.60L134.10 666.60L134.60 666.60L135.10 666.60L135.60 666.60L136.10 666.60L136.60 666.60L137.10 666.60L137.60 666.60L138.10 666.60L138.60 666.60L139.10 666.60L139.60 666.60L140.10 666.60L140.60 666.60L141.10 666.60L141.60 666.60L142.10 666.60L142.60 666.60L143.10 666.60L143.60 666.60L144.10 666.60L144.60 666.60L145.10 666.60L145.60 666.60L146.10 666.60L146.60 666.60L147.10 666.60L147.60 666.60L148.10 666.60L148.60 666.60L149.10 666.60L149.60 666.59L150.10 666.59L150.60 666.59L151.10 666.59L151.60 666.59L152.10 666.59L152.60 666.59L153.10 666.59L153.60 666.59L154.10 666.59L154.60 666.59L155.10 666.59L155.60 666.59L156.10 666.59L156.60 666.59L157.10 666.59L157.60 666.59L158.10 666.59L158.60 666.59L159.10 666.59L159.60 666.59L160.10 666.59L160.60 666.59L161.10 666.59L161.60 666.59L162.10 666.59L162.60 666.59L163.10 666.59L163.60 666.59L164.10 666.58L164.60 666.58L165.10 666.58L165.60 666.58L166.10 666.58L166.60 666.58L167.10 666.58L167.60 666.58L168.10 666.58L168.60 666.58L169.10 666.58L169.60 666.58L170.10 666.58L170.60 666.58L171.10 666.58L171.60 666.58L172.10 666.58L172.60 666.58L173.10 666.57L173.60 666.57L174.10 666.57L174.60 666.57L175.10 666.57L175.60 666.57L176.10 666.57L176.60 666.57L177.10 666.57L177.60 666.57L178.10 666.57L178.60 666.57L179.10 666.57L179.60 666.56L180.10 666.56L180.60 666.56L181.10 666.56L181.60 666.56L182.10 666.56L182.60 666.56L183.10 666.56L183.60 666.56L184.10 666.56L184.60 666.56L185.10 666.55L185.60 666.55L186.10 666.55L186.60 666.55L187.10 666.55L187.60 666.55L188.10 666.55L188.60 666.55L189.10 666.55L189.60 666.55L190.10 666.54L190.60 666.54L191.10 666.54L191.60 666.54L192.10 666.54L192.60 666.54L193.10 666.54L193.60 666.54L194.10 666.53L194.60 666.53L195.10 666.53L195.60 666.53L196.10 666.53L196.60 666.53L197.10 666.53L197.60 666.53L198.10 666.52L198.60 666.52L199.10 666.52L199.60 666.52L200.10 666.52L200.60 666.52L201.10 666.52L201.60 666.51L202.10 666.51L202.60 666.51L203.10 666.51L203.60 666.51L204.10 666.51L204.60 666.51L205.10 666.50L205.60 666.50L206.10 666.50L206.60 666.50L207.10 666.50L207.60 666.50L208.10 666.49L208.60 666.49L209.10 666.49L209.60 666.49L210.10 666.49L210.60 666.49L211.10 666.48L211.60 666.48L212.10 666.48L212.60 666.48L213.10 666.48L213.60 666.47L214.10 666.47L214.60 666.47L215.10 666.47L215.60 666.47L216.10 666.46L216.60 666.46L217.10 666.46L217.60 666.46L218.10 666.46L218.60 666.45L219.10 666.45L219.60 666.45L220.10 666.45L220.60 666.45L221.10 666.44L221.60 666.44L222.10 666.44L222.60 666.44L223.10 666.43L223.60 666.43L224.10 666.43L224.60 666.43L225.10 666.42L225.60 666.42L226.10 666.42L226.60 666.42L227.10 666.41L227.60 666.41L228.10 666.41L228.60 666.41L229.10 666.40L229.60 666.40L230.10 666.40L230.60 666.37L231.10 666.30L231.60 666.21L232.10 666.08L232.60 665.93L233.10 665.75L233.60 665.56L234.10 665.35L234.60 665.12L235.10 664.88L235.60 664.64L236.10 664.40L236.60 664.15L237.10 663.88L237.60 663.57L238.10 663.22L238.60 662.83L239.10 662.42L239.60 661.97L240.10 661.48L240.60 660.97L241.10 660.43L241.60 659.84L242.10 659.17L242.60 658.42L243.10 657.60L243.60 656.71L244.10 655.77L244.60 654.78L245.10 653.75L245.60 652.68L246.10 651.60L246.60 650.46L247.10 649.24L247.60 647.93L248.10 646.57L248.60 645.14L249.10 643.66L249.60 642.15L250.10 640.61L250.60 639.01L251.10 637.29L251.60 635.50L252.10 633.66L252.60 631.83L253.10 630.04L253.60 628.33L254.10 626.74L254.60 625.21L255.10 623.68L255.60 622.10L256.10 620.39L256.60 618.50L257.10 616.29L257.60 613.78L258.10 611.12L258.60 608.49L259.10 606.03L259.60 603.75L260.10 601.56L260.60 599.37L261.10 597.11L261.60 594.70L262.10 592.08L262.60 589.31L263.10 586.51L263.60 583.82L264.10 581.31L264.60 578.79L265.10 576.33L265.60 574.06L266.10 572.14L266.60 570.63L267.10 569.29L267.60 568.09L268.10 567.01L268.60 566.03L269.10 565.15L269.60 564.34L270.10 563.59L270.60 562.87L271.10 562.20L271.60 561.58L272.10 561.01L272.60 560.49L273.10 560.03L273.60 559.62L274.10 559.23L274.60 558.84L275.10 558.47L275.60 558.13L276.10 557.83L276.60 557.60L277.10 557.45L277.60 557.40L278.10 557.42L278.60 557.46L279.10 557.53L279.60 557.63L280.10 557.73L280.60 557.85L281.10 557.97L281.60 558.10L282.10 558.25L282.60 558.45L283.10 558.69L283.60 558.95L284.10 559.22L284.60 559.49L285.10 559.75L285.60 559.98L286.10 560.18L286.60 560.33L287.10 560.46L287.60 560.59L288.10 560.72L288.60 560.84L289.10 560.95L289.60 561.04L290.10 561.12L290.60 561.17L291.10 561.20L291.60 561.20L292.10 561.19L292.60 561.18L293.10 561.17L293.60 561.15L294.10 561.13L294.60 561.10L295.10 561.07L295.60 561.04L296.10 561.00L296.60 560.93L297.10 560.81L297.60 560.65L298.10 560.44L298.60 560.22L299.10 559.98L299.60 559.73L300.10 559.48L300.60 559.25L301.10 559.04L301.60 558.87L302.10 558.69L302.60 558.50L303.10 558.31L303.60 558.12L304.10 557.94L304.60 557.77L305.10 557.62L305.60 557.49L306.10 557.39L306.60 557.32L307.10 557.30L307.60 557.34L308.10 557.44L308.60 557.61L309.10 557.82L309.60 558.06L310.10 558.33L310.60 558.61L311.10 558.90L311.60 559.20L312.10 559.55L312.60 559.94L313.10 560.38L313.60 560.87L314.10 561.43L314.60 562.06L315.10 562.75L315.60 563.63L316.10 564.83L316.60 566.27L317.10 567.83L317.60 569.40L318.10 571.06L318.60 572.89L319.10 574.78L319.60 576.63L320.10 578.33L320.60 579.91L321.10 581.42L321.60 582.90L322.10 584.35L322.60 585.78L323.10 587.11L323.60 588.37L324.10 589.69L324.60 591.21L325.10 593.08L325.60 595.43L326.10 598.11L326.60 600.93L327.10 603.73L327.60 606.41L328.10 609.19L328.60 612.00L329.10 614.71L329.60 617.23L330.10 619.49L330.60 621.58L331.10 623.55L331.60 625.46L332.10 627.38L332.60 629.36L333.10 631.47L333.60 633.81L334.10 636.31L334.60 638.87L335.10 641.38L335.60 643.74L336.10 645.84L336.60 647.57L337.10 648.88L337.60 649.98L338.10 650.96L338.60 651.84L339.10 652.64L339.60 653.39L340.10 654.10L340.60 654.79L341.10 655.48L341.60 656.20L342.10 656.96L342.60 657.74L343.10 658.53L343.60 659.30L344.10 660.04L344.60 660.73L345.10 661.36L345.60 661.91L346.10 662.37L346.60 662.81L347.10 663.22L347.60 663.62L348.10 663.98L348.60 664.32L349.10 664.62L349.60 664.89L350.10 665.12L350.60 665.30L351.10 665.46L351.60 665.62L352.10 665.76L352.60 665.90L353.10 666.03L353.60 666.15L354.10 666.25L354.60 666.34L355.10 666.41L355.60 666.46L356.10 666.49L356.60 666.51L357.10 666.52L357.60 666.53L358.10 666.54L358.60 666.55L359.10 666.55L359.60 666.56L360.10 666.57L360.60 666.57L361.10 666.58L361.60 666.58L362.10 666.59L362.60 666.59L363.10 666.60L363.60 666.60L364.10 666.60L364.60 666.60L365.10 666.60L365.60 666.60L366.10 666.60L366.60 666.60L367.10 666.60L367.60 666.60L368.10 666.60L368.60 666.60L369.10 666.60L369.60 666.60L370.10 666.60L370.60 666.60L371.10 666.60L371.60 666.60L372.10 666.60L372.60 666.60L373.10 666.60L373.60 666.60L374.10 666.60L374.60 666.60L375.10 666.60L375.60 666.60L376.10 666.60L376.60 666.60L377.10 666.60L377.60 666.60L378.10 666.60L378.60 666.60L379.10 666.60L379.60 666.60L380.10 666.60L380.60 666.60L381.10 666.60L381.60 666.60L382.10 666.60L382.60 666.60L383.10 666.60L383.60 666.60L384.10 666.60L384.60 666.60L385.10 666.60L385.60 666.60L386.10 666.60L386.60 666.60L387.10 666.60L387.60 666.60L388.10 666.60L388.60 666.60L389.10 666.60L389.60 666.60L390.10 666.60L390.60 666.60L391.10 666.60L391.60 666.60L392.10 666.60L392.60 666.60L393.10 666.60L393.60 666.60L394.10 666.60L394.60 666.60L395.10 666.60L395.60 666.60L396.10 666.60L396.60 666.60L397.10 666.60L397.60 666.60L398.10 666.60L398.60 666.60L399.10 666.60L399.60 666.60L400.10 666.60L400.60 666.60L401.10 666.60L401.60 666.60L402.10 666.60L402.60 666.60L403.10 666.60L403.60 666.60L404.10 666.60L404.60 666.60L405.10 666.60L405.60 666.60L406.10 666.60L406.60 666.60L407.10 666.60L407.60 666.60L408.10 666.60L408.60 666.60L409.10 666.60L409.60 666.60L410.10 666.60L410.60 666.60L411.10 666.60L411.60 666.60L412.10 666.60L412.60 666.60L413.10 666.60L413.60 666.60L414.10 666.60L414.60 666.60L415.10 666.60L415.60 666.60L416.10 666.60L416.60 666.60L417.10 666.60L417.60 666.60L418.10 666.60L418.60 666.60L419.10 666.60L419.60 666.60L420.10 666.60L420.60 666.60L421.10 666.60L421.60 666.60L422.10 666.60L422.60 666.60L423.10 666.60L423.60 666.60L424.10 666.60L424.60 666.60L425.10 666.60L425.60 666.60L426.10 666.60L426.60 666.60L427.10 666.60L427.60 666.60L428.10 666.60L428.60 666.60L429.10 666.60L429.60 666.60L430.10 666.60L430.60 666.60L431.10 666.60L431.60 666.60L432.10 666.60L432.60 666.60L433.10 666.60L433.60 666.60L434.10 666.60L434.60 666.60L435.10 666.60L435.60 666.60L436.10 666.60L436.60 666.60L437.10 666.60L437.60 666.60L438.10 666.60L438.60 666.60L439.10 666.60L439.60 666.60L440.10 666.60L440.60 666.60L441.10 666.60L441.60 666.60L442.10 666.60L442.60 666.60L443.10 666.60L443.60 666.60L444.10 666.60L444.60 666.60L445.10 666.60L445.60 666.60L446.10 666.60L446.60 666.60L447.10 666.60L447.60 666.60L448.10 666.60L448.60 666.60L449.10 666.60L449.60 666.60L450.10 666.60L450.60 666.60L451.10 666.60L451.60 666.60L452.10 666.60L452.60 666.60L453.10 666.60L453.60 666.60L454.10 666.60L454.60 666.60L455.10 666.60L455.60 666.55L456.10 666.43L456.60 666.28L457.10 666.08L457.60 665.88L458.10 665.67L458.60 665.47L459.10 665.30L459.60 665.14L460.10 664.98L460.60 664.82L461.10 664.65L461.60 664.47L462.10 664.28L462.60 664.06L463.10 663.82L463.60 663.54L464.10 663.20L464.60 662.79L465.10 662.32L465.60 661.79L466.10 661.21L466.60 660.59L467.10 659.93L467.60 659.23L468.10 658.42L468.60 657.52L469.10 656.54L469.60 655.49L470.10 654.39L470.60 653.24L471.10 652.06L471.60 650.79L472.10 649.42L472.60 647.97L473.10 646.44L473.60 644.87L474.10 643.27L474.60 641.65L475.10 640.01L475.60 638.31L476.10 636.56L476.60 634.76L477.10 632.94L477.60 631.12L478.10 629.32L478.60 627.55L479.10 625.87L479.60 624.24L480.10 622.64L480.60 621.01L481.10 619.31L481.60 617.50L482.10 615.54L482.60 613.36L483.10 610.89L483.60 608.21L484.10 605.38L484.60 602.48L485.10 599.60L485.60 596.66L486.10 593.60L486.60 590.49L487.10 587.40L487.60 584.41L488.10 581.58L488.60 578.81L489.10 576.10L489.60 573.46L490.10 570.93L490.60 568.52L491.10 566.22L491.60 563.87L492.10 561.59L492.60 559.48L493.10 557.68L493.60 556.30L494.10 555.27L494.60 554.38L495.10 553.62L495.60 552.94L496.10 552.29L496.60 551.66L497.10 550.99L497.60 550.25L498.10 549.46L498.60 548.64L499.10 547.80L499.60 546.99L500.10 546.22L500.60 545.51L501.10 544.90L501.60 544.40L502.10 544.04L502.60 543.75L503.10 543.50L503.60 543.27L504.10 543.07L504.60 542.88L505.10 542.71L505.60 542.55L506.10 542.39L506.60 542.23L507.10 542.07L507.60 541.93L508.10 541.79L508.60 541.65L509.10 541.53L509.60 541.40L510.10 541.27L510.60 541.14L511.10 541.01L511.60 540.87L512.10 540.73L512.60 540.58L513.10 540.43L513.60 540.28L514.10 540.12L514.60 539.98L515.10 539.83L515.60 539.68L516.10 539.51L516.60 539.32L517.10 539.14L517.60 538.96L518.10 538.80L518.60 538.67L519.10 538.57L519.60 538.51L520.10 538.50L520.60 538.53L521.10 538.57L521.60 538.64L522.10 538.73L522.60 538.83L523.10 538.95L523.60 539.08L524.10 539.22L524.60 539.37L525.10 539.54L525.60 539.78L526.10 540.07L526.60 540.42L527.10 540.82L527.60 541.27L528.10 541.77L528.60 542.32L529.10 543.05L529.60 543.99L530.10 545.08L530.60 546.25L531.10 547.43L531.60 548.60L532.10 549.79L532.60 551.03L533.10 552.33L533.60 553.68L534.10 555.10L534.60 556.61L535.10 558.20L535.60 559.90L536.10 561.73L536.60 563.70L537.10 565.82L537.60 568.07L538.10 570.51L538.60 573.32L539.10 576.42L539.60 579.65L540.10 582.87L540.60 585.92L541.10 588.74L541.60 591.46L542.10 594.11L542.60 596.74L543.10 599.37L543.60 602.04L544.10 604.80L544.60 607.60L545.10 610.38L545.60 613.08L546.10 615.64L546.60 618.01L547.10 620.29L547.60 622.50L548.10 624.60L548.60 626.59L549.10 628.44L549.60 630.15L550.10 631.70L550.60 633.17L551.10 634.60L551.60 636.06L552.10 637.62L552.60 639.25L553.10 640.92L553.60 642.62L554.10 644.33L554.60 646.03L555.10 647.74L555.60 649.59L556.10 651.47L556.60 653.27L557.10 654.85L557.60 656.10L558.10 657.10L558.60 658.00L559.10 658.82L559.60 659.57L560.10 660.24L560.60 660.85L561.10 661.40L561.60 661.90L562.10 662.37L562.60 662.83L563.10 663.27L563.60 663.67L564.10 664.05L564.60 664.38L565.10 664.67L565.60 664.91L566.10 665.10L566.60 665.26L567.10 665.40L567.60 665.54L568.10 665.68L568.60 665.80L569.10 665.91L569.60 666.01L570.10 666.11L570.60 666.19L571.10 666.26L571.60 666.32L572.10 666.36L572.60 666.39L573.10 666.42L573.60 666.44L574.10 666.46L574.60 666.48L575.10 666.50L575.60 666.52L576.10 666.54L576.60 666.55L577.10 666.56L577.60 666.58L578.10 666.58L578.60 666.59L579.10 666.60L579.60 666.60L580.10 666.60L580.60 666.60L581.10 666.60L581.60 666.60L582.10 666.60L582.60 666.60L583.10 666.60L583.60 666.60L584.10 666.60L584.60 666.60L585.10 666.60L585.60 666.60L586.10 666.60L586.60 666.60L587.10 666.60L587.60 666.60L588.10 666.60L588.60 666.60L589.10 666.60L589.60 666.60L590.10 666.60L590.60 666.60L591.10 666.60L591.60 666.60L592.10 666.60L592.60 666.60L593.10 666.60L593.60 666.60L594.10 666.60L594.60 666.60L595.10 666.60L595.60 666.60L596.10 666.60L596.60 666.60L597.10 666.60L597.60 666.60L598.10 666.60L598.60 666.60L599.10 666.60L599.60 666.60L600.10 666.60L600.60 666.60L601.10 666.60L601.60 666.60L602.10 666.60L602.60 666.60L603.10 666.60L603.60 666.60L604.10 666.60L604.60 666.60L605.10 666.60L605.60 666.60L606.10 666.60L606.60 666.60L607.10 666.60L607.60 666.60L608.10 666.60L608.60 666.60L609.10 666.60L609.60 666.60L610.10 666.60L610.60 666.60L611.10 666.60L611.60 666.60L612.10 666.60L612.60 666.60L613.10 666.60L613.60 666.60L614.10 666.60L614.60 666.60L615.10 666.60L615.60 666.60L616.10 666.60L616.60 666.60L617.10 666.60L617.60 666.60L618.10 666.60L618.60 666.60L619.10 666.60L619.60 666.60L620.10 666.60L620.60 666.60L621.10 666.60L621.60 666.60L622.10 666.60L622.60 666.60L623.10 666.60L623.60 666.60L624.10 666.60L624.60 666.60L625.10 666.60L625.60 666.60L626.10 666.60L626.60 666.60L627.10 666.60L627.60 666.60L628.10 666.60L628.60 666.60L629.10 666.60L629.60 666.60L630.10 666.60L630.60 666.60L631.10 666.60L631.60 666.60L632.10 666.60L632.60 666.60L633.10 666.60L633.60 666.60L634.10 666.60L634.60 666.60L635.10 666.60L635.60 666.60L636.10 666.60L636.60 666.60L637.10 666.60L637.60 666.60L638.10 666.60L638.60 666.60L639.10 666.60L639.60 666.60L640.10 666.60L640.60 666.60L641.10 666.60L641.60 666.60L642.10 666.60L642.60 666.60L643.10 666.60L643.60 666.60L644.10 666.60L644.60 666.60L645.10 666.60L645.60 666.60L646.10 666.60L646.60 666.60L647.10 666.60L647.60 666.60L648.10 666.60L648.60 666.60L649.10 666.60L649.60 666.60L650.10 666.60L650.60 666.60L651.10 666.60L651.60 666.60L652.10 666.60L652.60 666.60L653.10 666.60L653.60 666.60L654.10 666.60L654.60 666.60L655.10 666.60L655.60 666.60L656.10 666.60L656.60 666.60L657.10 666.60L657.60 666.60L658.10 666.60L658.60 666.60L659.10 666.60L659.60 666.60L660.10 666.60L660.60 666.60L661.10 666.60L661.60 666.60L662.10 666.60L662.60 666.60L663.10 666.60L663.60 666.60L664.10 666.60L664.60 666.60L665.10 666.60L665.60 666.60L666.10 666.60L666.60 666.60L667.10 666.60L667.60 666.60L668.10 666.60L668.60 666.60L669.10 666.60L669.60 666.60L670.10 666.60L670.60 666.60L671.10 666.60L671.60 666.60L672.10 666.60L672.60 666.60L673.10 666.60L673.60 666.60L674.10 666.60L674.60 666.60L675.10 666.60L675.60 666.60L676.10 666.60L676.60 666.60L677.10 666.60L677.60 666.60L678.10 666.60L678.60 666.60L679.10 666.60L679.60 666.60L680.10 666.60L680.60 666.60L681.10 666.60L681.60 666.60L682.10 666.60L682.60 666.60L683.10 666.60L683.60 666.60L684.10 666.60L684.60 666.60L685.10 666.60L685.60 666.60L686.10 666.60L686.60 666.60L687.10 666.60L687.60 666.60L688.10 666.60L688.60 666.60L689.10 666.60L689.60 666.60" stroke="#e1141e" stroke-width="2" fill="none" stroke-linejoin="round"/>
<rect x="122.1" y="264.5" width="567.6" height="402.9" fill="none" stroke="#000" stroke-width="2"/>
<path d="M109.4 667.4H122.1M115.4 610.1H122.1M109.4 552.8H122.1M115.4 495.5H122.1M109.4 438.2H122.1M115.4 380.9H122.1M109.4 323.6H122.1M115.4 266.3H122.1M149.7 667.4V674.4M234.9 667.4V679.4M320.1 667.4V674.4M405.3 667.4V679.4M490.5 667.4V674.4M575.7 667.4V679.4M660.9 667.4V674.4" stroke="#000" stroke-width="2" fill="none"/>
<text transform="translate(102.90 332.80)" font-size="24.20" text-anchor="end">30</text>
<text transform="translate(102.90 447.40)" font-size="24.20" text-anchor="end">20</text>
<text transform="translate(102.90 562.00)" font-size="24.20" text-anchor="end">10</text>
<text transform="translate(102.90 676.60)" font-size="24.20" text-anchor="end">0</text>
<text transform="translate(234.90 699.40)" font-size="25.80" text-anchor="middle">–0.5</text>
<text transform="translate(406.10 699.40)" font-size="25.80" text-anchor="middle">0.0</text>
<text transform="translate(577.20 699.40)" font-size="25.80" text-anchor="middle">0.5</text>
<text transform="translate(423.00 733.50)" font-size="24.50" text-anchor="middle">E–E<tspan font-size="14.5" dy="4">F</tspan><tspan dy="-4"> (eV)</tspan></text>
<text transform="translate(53.90 462.30) rotate(-90)" font-size="25.00" text-anchor="middle">DOS (state/eV)</text>
<text transform="translate(179.00 293.00)" font-size="24.80" fill="#009a49">End Cell PDOS</text>
<text transform="translate(388.80 293.00)" font-size="24.80" fill="#e1141e">Bulk Cell PDOS</text>
<text transform="translate(218.04 353.00)" font-size="29.20" text-anchor="middle">End St. 1</text>
<text transform="translate(404.80 353.00)" font-size="29.20" text-anchor="middle">End St. 2</text>
<text transform="translate(587.13 353.00)" font-size="29.20" text-anchor="middle">End St. 3</text>
<text transform="translate(296.48 494.00)" font-size="29.50" text-anchor="middle">OTB</text>
<text transform="translate(515.21 478.00)" font-size="29.50" text-anchor="middle">UTB</text>
<line x1="149.3" y1="285.7" x2="172.3" y2="285.7" stroke="#00924a" stroke-width="3"/>
<line x1="359.8" y1="285.7" x2="382.8" y2="285.7" stroke="#e1141e" stroke-width="3"/>
<line x1="218.5" y1="362.9" x2="218.5" y2="401.1" stroke="#111" stroke-width="1.9"/>
<path d="M210.8 395.4L218.5 398.6L226.2 395.4L218.5 413.1Z" fill="#111"/>
<line x1="405.3" y1="362.9" x2="405.3" y2="401.1" stroke="#111" stroke-width="1.9"/>
<path d="M397.6 395.4L405.3 398.6L413.0 395.4L405.3 413.1Z" fill="#111"/>
<line x1="587.6" y1="362.9" x2="587.6" y2="401.1" stroke="#111" stroke-width="1.9"/>
<path d="M579.9 395.4L587.6 398.6L595.3 395.4L587.6 413.1Z" fill="#111"/>
<line x1="296.5" y1="503" x2="296.5" y2="537" stroke="#111" stroke-width="1.9"/>
<path d="M288.8 531.3L296.5 534.5L304.2 531.3L296.5 549.0Z" fill="#111"/>
<line x1="515.2" y1="485.5" x2="515.2" y2="520" stroke="#111" stroke-width="1.9"/>
<path d="M507.5 514.3L515.2 517.5L522.9 514.3L515.2 532.0Z" fill="#111"/>
<line x1="814.3" y1="404.1" x2="1148.6" y2="404.1" stroke="#808285" stroke-width="1.8" stroke-dasharray="4.8 4.3"/>
<line x1="814.3" y1="491.8" x2="1148.6" y2="491.8" stroke="#808285" stroke-width="1.8" stroke-dasharray="4.8 4.3"/>
<line x1="814.3" y1="601.7" x2="1148.6" y2="601.7" stroke="#808285" stroke-width="1.8" stroke-dasharray="4.8 4.3"/>
<path d="M814.50 273.30C818.97 272.68 830.78 271.32 841.30 269.60C851.82 267.88 865.50 265.12 877.60 263.00C889.70 260.88 903.82 258.62 913.90 256.90C923.98 255.18 930.03 253.85 938.10 252.70C946.17 251.55 954.48 250.53 962.30 250.00C970.12 249.47 976.83 249.45 985.00 249.50C993.17 249.55 1002.88 249.87 1011.30 250.30C1019.72 250.73 1027.43 251.20 1035.50 252.10C1043.57 253.00 1051.63 254.57 1059.70 255.70C1067.77 256.83 1075.83 257.87 1083.90 258.90C1091.97 259.93 1100.03 261.05 1108.10 261.90C1116.17 262.75 1125.55 263.62 1132.30 264.00C1139.05 264.38 1145.88 264.17 1148.60 264.20M814.50 278.50C828.75 278.52 861.15 278.60 900.00 278.60C938.85 278.60 1018.97 278.65 1047.60 278.50C1076.23 278.35 1061.72 278.12 1071.80 277.70C1081.88 277.28 1098.02 276.43 1108.10 276.00C1118.18 275.57 1125.55 275.25 1132.30 275.10C1139.05 274.95 1145.88 275.10 1148.60 275.10M814.50 274.30C817.08 274.75 823.52 275.97 830.00 277.00C836.48 278.03 843.45 278.73 853.40 280.50C863.35 282.27 877.60 285.38 889.70 287.60C901.80 289.82 913.90 292.02 926.00 293.80C938.10 295.58 952.47 297.17 962.30 298.30C972.13 299.43 978.85 299.93 985.00 300.60C991.15 301.27 992.80 301.68 999.20 302.30C1005.60 302.92 1013.32 303.40 1023.40 304.30C1033.48 305.20 1047.60 306.77 1059.70 307.70C1071.80 308.63 1085.92 309.40 1096.00 309.90C1106.08 310.40 1111.43 310.55 1120.20 310.70C1128.97 310.85 1143.87 310.78 1148.60 310.80M814.50 318.00C818.97 317.90 830.78 317.80 841.30 317.40C851.82 317.00 865.50 316.40 877.60 315.60C889.70 314.80 901.80 313.70 913.90 312.60C926.00 311.50 938.35 310.32 950.20 309.00C962.05 307.68 976.83 305.77 985.00 304.70C993.17 303.63 992.80 303.50 999.20 302.60C1005.60 301.70 1013.32 300.87 1023.40 299.30C1033.48 297.73 1047.60 295.02 1059.70 293.20C1071.80 291.38 1083.90 289.57 1096.00 288.40C1108.10 287.23 1123.53 286.55 1132.30 286.20C1141.07 285.85 1145.88 286.28 1148.60 286.30M814.50 422.80C822.08 422.60 844.18 422.28 860.00 421.60C875.82 420.92 889.07 420.18 909.40 418.70C929.73 417.22 953.78 414.83 982.00 412.70C1010.22 410.57 1055.70 407.22 1078.70 405.90C1101.70 404.58 1108.35 405.00 1120.00 404.80C1131.65 404.60 1143.83 404.72 1148.60 404.70M814.50 491.80C824.25 491.93 856.25 491.90 873.00 492.60C889.75 493.30 900.87 494.80 915.00 496.00C929.13 497.20 938.58 498.17 957.80 499.80C977.02 501.43 1006.10 503.92 1030.30 505.80C1054.50 507.68 1083.28 510.02 1103.00 511.10C1122.72 512.18 1141.00 512.10 1148.60 512.30M814.50 610.00C819.97 610.00 836.78 609.70 847.30 610.00C857.82 610.30 866.50 611.00 877.60 611.80C888.70 612.60 903.82 613.90 913.90 614.80C923.98 615.70 930.03 616.47 938.10 617.20C946.17 617.93 954.48 618.52 962.30 619.20C970.12 619.88 976.83 620.32 985.00 621.30C993.17 622.28 1000.87 623.47 1011.30 625.10C1021.73 626.73 1035.50 629.43 1047.60 631.10C1059.70 632.77 1073.50 634.22 1083.90 635.10C1094.30 635.98 1099.22 636.15 1110.00 636.40C1120.78 636.65 1142.17 636.57 1148.60 636.60M814.50 648.70C816.55 648.40 820.32 648.40 826.80 646.90C833.28 645.40 844.93 641.52 853.40 639.70C861.87 637.88 867.52 638.03 877.60 636.00C887.68 633.97 901.80 629.97 913.90 627.50C926.00 625.03 938.35 622.95 950.20 621.20C962.05 619.45 974.82 618.47 985.00 617.00C995.18 615.53 1000.87 614.08 1011.30 612.40C1021.73 610.72 1035.50 608.35 1047.60 606.90C1059.70 605.45 1071.80 604.50 1083.90 603.70C1096.00 602.90 1109.42 602.43 1120.20 602.10C1130.98 601.77 1143.87 601.77 1148.60 601.70M814.50 637.80C855.42 637.80 1014.92 637.68 1060.00 637.80C1105.08 637.92 1076.67 638.05 1085.00 638.50C1093.33 638.95 1102.50 639.95 1110.00 640.50C1117.50 641.05 1123.57 641.55 1130.00 641.80C1136.43 642.05 1145.50 641.97 1148.60 642.00M814.50 651.70C816.55 651.87 820.32 651.38 826.80 652.70C833.28 654.02 846.20 657.72 853.40 659.60C860.60 661.48 864.97 662.83 870.00 664.00C875.03 665.17 881.33 666.17 883.60 666.60M1122.60 666.60C1124.67 666.43 1130.67 665.83 1135.00 665.60C1139.33 665.37 1146.33 665.27 1148.60 665.20" stroke="#000" stroke-width="2" fill="none"/>
<rect x="814.3" y="248.7" width="334.3" height="417.9" fill="none" stroke="#000" stroke-width="1.9"/>
<path d="M814.3 289.1H827.3M814.3 356.6H827.3M814.3 424.1H827.3M814.3 491.6H827.3M814.3 559.1H827.3M814.3 626.6H827.3" stroke="#000" stroke-width="2" fill="none"/>
<line x1="848" y1="357.4" x2="894.8" y2="357.4" stroke="#000" stroke-width="2"/>
<text transform="translate(806.30 294.70)" font-size="18.50" text-anchor="end">1.5</text>
<text transform="translate(806.30 362.20)" font-size="18.50" text-anchor="end">1.0</text>
<text transform="translate(806.30 429.70)" font-size="18.50" text-anchor="end">0.5</text>
<text transform="translate(806.30 497.20)" font-size="18.50" text-anchor="end">0.0</text>
<text transform="translate(806.30 564.70)" font-size="18.50" text-anchor="end">-0.5</text>
<text transform="translate(806.30 632.20)" font-size="18.50" text-anchor="end">-1.0</text>
<text transform="translate(770.40 456.80) rotate(-90)" font-size="21.00" text-anchor="middle">Energy (eV)</text>
<text transform="translate(809.00 687.80)" font-size="25.00" font-family="Liberation Serif, serif">Γ</text>
<text transform="translate(976.00 697.70)" font-size="24.50" text-anchor="middle">k</text>
<text transform="translate(1140.50 690.70)" font-size="24.50" text-anchor="middle">X</text>
<text transform="translate(820.30 341.70)" font-size="25.30">CB</text>
<text transform="translate(899.50 363.10)" font-size="25.30">DFT-LDA</text>
<text transform="translate(820.30 446.50)" font-size="25.30">UTB</text>
<text transform="translate(820.30 518.40)" font-size="25.30">OTB</text>
<text transform="translate(820.30 599.30)" font-size="25.30">VB</text>
<text transform="translate(1072.00 390.80)" font-size="24.50"><tspan font-family="DejaVu Serif, serif" font-size="25.8">ℤ</tspan><tspan font-size="21" dy="5.5">2</tspan><tspan dy="-5.5" dx="-2.6"> = 1</tspan></text>
<text transform="translate(1072.00 480.40)" font-size="24.50"><tspan font-family="DejaVu Serif, serif" font-size="25.8">ℤ</tspan><tspan font-size="21" dy="5.5">2</tspan><tspan dy="-5.5" dx="-2.6"> = 1</tspan></text>
<text transform="translate(1072.00 585.40)" font-size="24.50"><tspan font-family="DejaVu Serif, serif" font-size="25.8">ℤ</tspan><tspan font-size="21" dy="5.5">2</tspan><tspan dy="-5.5" dx="-2.6"> = 1</tspan></text>
<path d="M1203.2 248.1V611.5M1316.8 248.1V611.5M1387.4 248.1V611.5M1458.6 248.1V611.5M1633.9 248.1V611.5M1809.0 248.1V611.5M1202.3 249.0H1809.9M1202.3 393.3H1809.9M1202.3 465.8H1809.9M1202.3 538.1H1809.9M1202.3 610.6H1809.9M1316.8 538.1L1387.4 610.6M1387.4 538.1L1458.6 610.6" stroke="#000" stroke-width="1.8" fill="none"/>
<text transform="translate(1257.20 306.70) scale(1.000 1.042)" font-size="30.90" text-anchor="middle">Frontier</text>
<text transform="translate(1257.00 344.30) scale(1.000 1.042)" font-size="30.90" text-anchor="middle">Band</text>
<text transform="translate(1350.00 328.20) scale(1.000 1.042)" font-size="31.20" text-anchor="middle">P(Γ)</text>
<text transform="translate(1423.20 328.20) scale(1.000 1.042)" font-size="31.20" text-anchor="middle">P(X)</text>
<text transform="translate(1546.60 274.90) scale(1.000 1.042)" font-size="23.20" text-anchor="middle">P(Γ)P(X) for</text>
<text transform="translate(1546.60 303.10) scale(1.000 1.042)" font-size="23.20" text-anchor="middle">electron filling</text>
<text transform="translate(1546.60 330.30) scale(1.000 1.042)" font-size="23.20" text-anchor="middle">up to and</text>
<text transform="translate(1546.60 357.90) scale(1.000 1.042)" font-size="23.20" text-anchor="middle">including this</text>
<text transform="translate(1546.60 385.40) scale(1.000 1.042)" font-size="23.20" text-anchor="middle">frontier band</text>
<text transform="translate(1721.50 274.90) scale(1.000 1.042)" font-size="23.20" text-anchor="middle"><tspan font-family="DejaVu Serif, serif" font-size="25.7">ℤ</tspan><tspan font-size="20.5" dy="5.5">2</tspan><tspan dy="-5.5"> for</tspan></text>
<text transform="translate(1721.50 303.10) scale(1.000 1.042)" font-size="23.20" text-anchor="middle">electron filling</text>
<text transform="translate(1721.50 330.30) scale(1.000 1.042)" font-size="23.20" text-anchor="middle">up to and</text>
<text transform="translate(1721.50 357.90) scale(1.000 1.042)" font-size="23.20" text-anchor="middle">including this</text>
<text transform="translate(1721.50 385.40) scale(1.000 1.042)" font-size="23.20" text-anchor="middle">frontier band</text>
<text transform="translate(1257.00 434.80) scale(1.000 1.042)" font-size="30.30" text-anchor="middle">UTB</text>
<text transform="translate(1350.00 434.80) scale(1.000 1.042)" font-size="30.30" text-anchor="middle">-1</text>
<text transform="translate(1422.00 434.80) scale(1.000 1.042)" font-size="30.30" text-anchor="middle">-1</text>
<text transform="translate(1546.00 434.80) scale(1.000 1.042)" font-size="30.30" text-anchor="middle">-1</text>
<text transform="translate(1721.00 434.80) scale(1.000 1.042)" font-size="30.30" text-anchor="middle">1</text>
<text transform="translate(1257.00 509.00) scale(1.000 1.042)" font-size="30.30" text-anchor="middle">OTB</text>
<text transform="translate(1350.00 509.00) scale(1.000 1.042)" font-size="30.30" text-anchor="middle">1</text>
<text transform="translate(1422.00 509.00) scale(1.000 1.042)" font-size="30.30" text-anchor="middle">1</text>
<text transform="translate(1546.00 509.00) scale(1.000 1.042)" font-size="30.30" text-anchor="middle">-1</text>
<text transform="translate(1721.00 509.00) scale(1.000 1.042)" font-size="30.30" text-anchor="middle">1</text>
<text transform="translate(1257.00 583.20) scale(1.000 1.042)" font-size="30.30" text-anchor="middle">VB</text>
<text transform="translate(1546.00 583.20) scale(1.000 1.042)" font-size="30.30" text-anchor="middle">-1</text>
<text transform="translate(1721.00 583.20) scale(1.000 1.042)" font-size="30.30" text-anchor="middle">1</text>
</svg>
</body></html>
